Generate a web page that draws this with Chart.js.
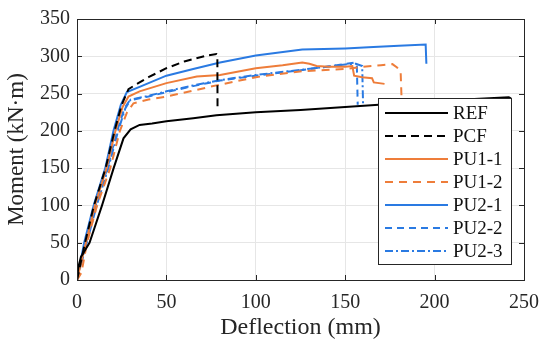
<!DOCTYPE html>
<html>
<head>
<meta charset="utf-8">
<script src="https://cdn.jsdelivr.net/npm/chart.js@4/dist/chart.umd.min.js"></script>
<style>
  body { margin: 0; background: #fff; }
  #myChart { display: block; }
</style>
</head>
<body>
<canvas id="myChart" width="550" height="346"></canvas>
<script>
// deflection (mm) / moment (kN·m)
var refX = [0, 0.8, 2.2, 7, 14, 20.5, 26, 30, 35, 42, 50, 65, 78, 100, 125, 150, 175, 200, 225, 241.5, 242.4, 242.6];
var refY = [0, 18, 31, 50, 100, 150, 190, 202, 208, 210, 213, 217, 221, 225, 228, 232, 236, 240, 243, 245, 244, 164];

var pcfX = [0, 4.5, 9.5, 16, 21, 25, 28.8, 35, 40, 50, 60, 72.5, 78, 78.5, 78.6];
var pcfY = [0, 50, 100, 150, 200, 235, 256, 265, 272, 284, 293, 301, 303, 302, 230];

var pu11X = [0, 5, 10, 16.5, 21.5, 25.5, 28.8, 35, 50, 67, 80, 100, 115, 126, 130, 134, 141, 150, 154, 155, 159.5, 165, 166, 172];
var pu11Y = [0, 50, 100, 150, 200, 232, 246, 253, 264, 273, 275, 284, 288, 291.6, 290, 287, 286, 286, 287, 274, 272, 270.6, 265, 263];

var pu12X = [0, 2.5, 5.6, 11.2, 18.6, 24, 28, 31.6, 40, 50, 65, 78, 100, 126, 150, 160, 170, 176.4, 179, 181, 181.5];
var pu12Y = [0, 10, 50, 100, 150, 200, 225, 237, 242, 246, 254, 261, 272, 280, 283, 286, 288, 289.5, 285, 280, 245];

var pu21X = [0, 4, 9.3, 15.8, 20.4, 24.5, 27.9, 35, 50, 65, 80, 100, 126, 150, 163, 180, 195, 195.4];
var pu21Y = [0, 50, 100, 150, 200, 235, 252, 259, 274, 283, 291.7, 301, 309, 310.5, 312, 314, 315.8, 290];

var pu22X = [0, 5, 10.5, 17, 22.5, 26.5, 29.5, 40, 50, 65, 80, 100, 126, 150, 155, 156.5, 157];
var pu22Y = [0, 50, 100, 150, 200, 230, 241, 246, 252, 260, 267.5, 274, 281.6, 289.5, 291.6, 289, 235];

var pu23X = [0, 5.5, 11, 17.5, 23, 27, 30, 40, 50, 65, 80, 100, 126, 150, 156, 159.5, 160];
var pu23Y = [0, 50, 100, 150, 200, 230, 242, 247, 253, 261, 268, 275, 282, 289, 290, 287, 235];

var xTicks = [0, 50, 100, 150, 200, 250];
var yTicks = [0, 50, 100, 150, 200, 250, 300, 350];

var ORANGE = '#EE7D3A';
var BLUE = '#2A7AE2';
var FONT = "'Liberation Serif', 'Times New Roman', serif";

function pts(xs, ys) {
  return xs.map(function (x, i) { return { x: x, y: ys[i] }; });
}

function series(label, xs, ys, color, dash) {
  return {
    label: label,
    data: pts(xs, ys),
    borderColor: color,
    backgroundColor: color,
    borderWidth: 2,
    borderDash: dash,
    pointRadius: 0,
    showLine: true,
    fill: false,
    tension: 0
  };
}

// box + inward ticks like matlab
var framePlugin = {
  id: 'frame',
  afterDatasetsDraw: function (chart) {
    var c = chart.ctx, a = chart.chartArea;
    var xs = chart.scales.x, ys = chart.scales.y;
    c.save();
    c.strokeStyle = '#262626';
    c.lineWidth = 1;
    c.strokeRect(a.left + 0.5, a.top + 0.5, a.right - a.left, a.bottom - a.top);
    c.beginPath();
    xTicks.forEach(function (v) {
      var px = Math.round(xs.getPixelForValue(v)) + 0.5;
      c.moveTo(px, a.bottom); c.lineTo(px, a.bottom - 5);
      c.moveTo(px, a.top); c.lineTo(px, a.top + 5);
    });
    yTicks.forEach(function (v) {
      var py = Math.round(ys.getPixelForValue(v)) + 0.5;
      c.moveTo(a.left, py); c.lineTo(a.left + 5, py);
      c.moveTo(a.right, py); c.lineTo(a.right - 5, py);
    });
    c.stroke();
    c.restore();
  }
};

var legendPlugin = {
  id: 'boxLegend',
  afterDraw: function (chart) {
    var c = chart.ctx;
    var bx = 378.5, by = 98.5, bw = 133, bh = 166;
    c.save();
    c.fillStyle = '#fff';
    c.fillRect(bx, by, bw, bh);
    c.strokeStyle = '#262626';
    c.lineWidth = 1;
    c.strokeRect(bx, by, bw, bh);
    c.font = '19px ' + FONT;
    c.textBaseline = 'middle';
    chart.data.datasets.forEach(function (ds, i) {
      var y = 113 + i * 23;
      c.strokeStyle = ds.borderColor;
      c.lineWidth = 2;
      c.setLineDash(ds.borderDash || []);
      c.beginPath();
      c.moveTo(385, y); c.lineTo(448, y);
      c.stroke();
      c.setLineDash([]);
      c.fillStyle = '#111';
      c.fillText(ds.label, 453, y + 1);
    });
    c.restore();
  }
};

var ctx = document.getElementById('myChart');
var myChart = new Chart(ctx, {
  type: 'scatter',
  data: {
    datasets: [
      series('REF', refX, refY, '#000', []),
      series('PCF', pcfX, pcfY, '#000', [8, 5]),
      series('PU1-1', pu11X, pu11Y, ORANGE, []),
      series('PU1-2', pu12X, pu12Y, ORANGE, [8, 6]),
      series('PU2-1', pu21X, pu21Y, BLUE, []),
      series('PU2-2', pu22X, pu22Y, BLUE, [7, 5]),
      series('PU2-3', pu23X, pu23Y, BLUE, [8, 3, 2, 3])
    ]
  },
  options: {
    responsive: false,
    maintainAspectRatio: false,
    animation: false,
    layout: { padding: { top: 14, right: 25, left: 0, bottom: 0 } },
    plugins: { legend: { display: false }, tooltip: { enabled: false } },
    scales: {
      x: {
        type: 'linear',
        min: 0, max: 250,
        afterBuildTicks: function (s) { s.ticks = xTicks.map(function (v) { return { value: v }; }); },
        afterFit: function (s) { s.height = 66; },
        ticks: { font: { family: FONT, size: 20 }, color: '#262626', padding: 11, maxRotation: 0 },
        grid: { color: '#e6e6e6', drawTicks: false },
        border: { color: '#262626' },
        title: { display: true, text: 'Deflection (mm)', font: { family: FONT, size: 24 }, color: '#262626', padding: { top: 0, bottom: 4 } }
      },
      y: {
        type: 'linear',
        min: 0, max: 350,
        afterBuildTicks: function (s) { s.ticks = yTicks.map(function (v) { return { value: v }; }); },
        afterFit: function (s) { s.width = 77; },
        ticks: { font: { family: FONT, size: 20 }, color: '#262626', padding: 7 },
        grid: { color: '#e6e6e6', drawTicks: false },
        border: { color: '#262626' },
        title: { display: true, text: 'Moment (kN·m)', font: { family: FONT, size: 23 }, color: '#262626', padding: { top: 3, bottom: 0 } }
      }
    }
  },
  plugins: [framePlugin, legendPlugin]
});
</script>
</body>
</html>
